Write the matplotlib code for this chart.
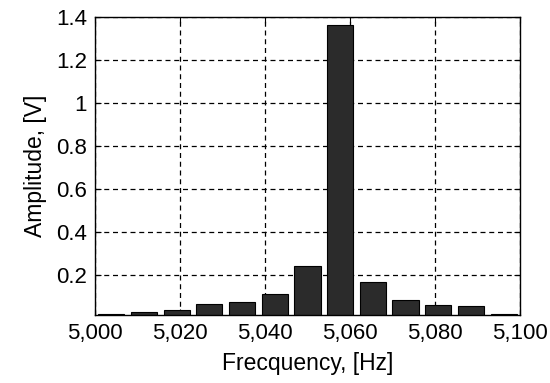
import numpy as np
from matplotlib import pyplot as plt

## data
freq = [5003.8, 5011.5, 5019.2, 5026.9, 5034.6, 5042.3, 5050.0,
        5057.7, 5065.4, 5073.1, 5080.8, 5088.5, 5096.2]
amp = [0.018, 0.027, 0.038, 0.065, 0.073, 0.11, 0.243,
       1.365, 0.166, 0.085, 0.062, 0.054, 0.02]
xticks = [5000, 5020, 5040, 5060, 5080, 5100]
xticklabels = ['5,000', '5,020', '5,040', '5,060', '5,080', '5,100']
yticks = [0.2, 0.4, 0.6, 0.8, 1.0, 1.2, 1.4]
yticklabels = ['0.2', '0.4', '0.6', '0.8', '1', '1.2', '1.4']

plt.rcParams['font.family'] = ['Liberation Sans', 'DejaVu Sans']

fig = plt.figure(figsize=(5.5, 3.83), dpi=100)
ax = fig.add_axes([0.173, 0.178, 0.772, 0.777])

ax.bar(freq, amp, width=100 / 13 * 0.8, color='#2b2b2b', edgecolor='black', linewidth=0.8)

ax.set_xlim(5000, 5100)
ax.set_ylim(0.015, 1.4)
ax.set_xticks(xticks)
ax.set_xticklabels(xticklabels)
ax.set_yticks(yticks)
ax.set_yticklabels(yticklabels)
ax.tick_params(direction='in', top=True, right=True, labelsize=16, length=4, pad=6)

ax.set_axisbelow(True)
ax.grid(True, color='black', linestyle=(0, (4, 3)), linewidth=0.9)
for s in ax.spines.values():
    s.set_linewidth(1.0)

ax.set_xlabel('Frecquency, [Hz]', fontsize=16.5, labelpad=6)
ax.set_ylabel('Amplitude, [V]', fontsize=16.5, labelpad=6)

fig.savefig('out.png', dpi=100)
